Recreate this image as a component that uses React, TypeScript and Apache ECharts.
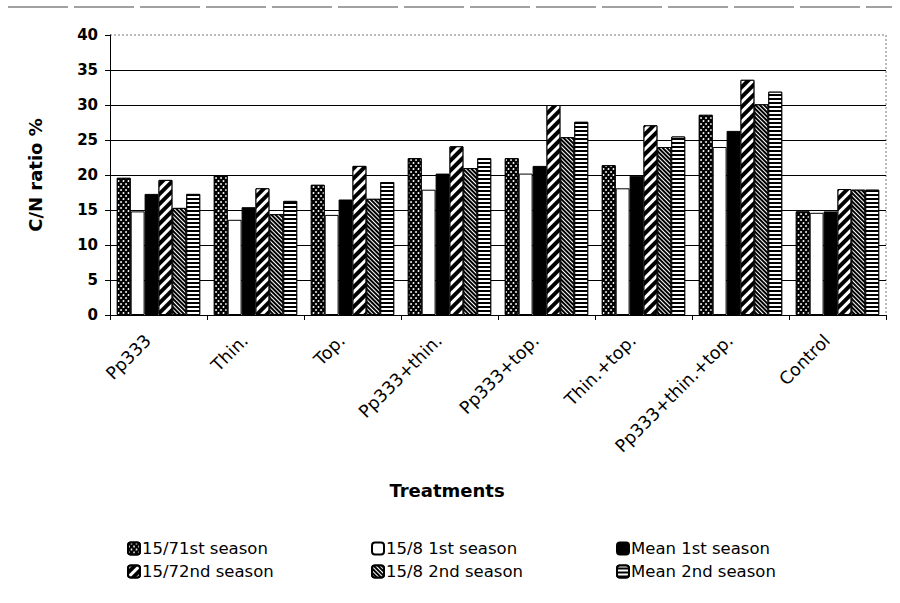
import React, { useEffect, useRef } from "react";
import * as echarts from "echarts";

const categories = [
  "Pp333",
  "Thin.",
  "Top.",
  "Pp333+thin.",
  "Pp333+top.",
  "Thin.+top.",
  "Pp333+thin.+top.",
  "Control",
];

const seriesNames = [
  "15/71st season",
  "15/8 1st season",
  "Mean 1st season",
  "15/72nd season",
  "15/8 2nd season",
  "Mean 2nd season",
];

const s157First = [19.6, 20.0, 18.6, 22.4, 22.4, 21.4, 28.6, 14.8];
const s158First = [14.8, 13.6, 14.3, 17.9, 20.2, 18.1, 24.0, 14.6];
const meanFirst = [17.3, 15.4, 16.5, 20.2, 21.3, 19.9, 26.3, 14.8];
const s157Second = [19.3, 18.1, 21.3, 24.1, 30.0, 27.1, 33.6, 18.0];
const s158Second = [15.3, 14.4, 16.6, 21.0, 25.4, 24.0, 30.1, 17.9];
const meanSecond = [17.3, 16.3, 19.0, 22.4, 27.6, 25.5, 31.9, 17.9];

const seriesValues = [s157First, s158First, meanFirst, s157Second, s158Second, meanSecond];

const yMin = 0;
const yMax = 40;
const yStep = 5;

const FONT = "DejaVu Sans";

const styles: any[] = [
  {
    color: "#000",
    decal: {
      symbol: "circle",
      color: "#fff",
      dashArrayX: [[2, 3], [0, 2, 3, 0]],
      dashArrayY: [2, 1],
      symbolSize: 0.9,
    },
  },
  { color: "#fff" },
  { color: "#000" },
  {
    color: "#000",
    decal: {
      symbol: "rect",
      color: "#fff",
      dashArrayX: [1, 0],
      dashArrayY: [3, 4],
      rotation: -Math.PI / 4,
      symbolSize: 1,
    },
  },
  {
    color: "#000",
    decal: {
      symbol: "rect",
      color: "#fff",
      dashArrayX: [1, 0],
      dashArrayY: [1, 2],
      rotation: Math.PI / 4,
      symbolSize: 1,
    },
  },
  {
    color: "#000",
    decal: {
      symbol: "rect",
      color: "#fff",
      dashArrayX: [1, 0],
      dashArrayY: [2, 2],
      rotation: 0,
      symbolSize: 1,
    },
  },
];

export default function App() {
  const ref = useRef<HTMLDivElement>(null);
  useEffect(() => {
    if (!ref.current) return;
    const chart = echarts.init(ref.current, null, { renderer: "svg" });
    const legendCols = [
      [seriesNames[0], seriesNames[3]],
      [seriesNames[1], seriesNames[4]],
      [seriesNames[2], seriesNames[5]],
    ];
    const legendLeft = [127, 371, 616];
    chart.setOption({
      animation: false,
      backgroundColor: "#fff",
      grid: { left: 110, right: 14, top: 35, bottom: 288, containLabel: false },
      legend: legendCols.map((d, i) => ({
        data: d,
        orient: "vertical",
        left: legendLeft[i],
        top: 540,
        itemWidth: 12,
        itemHeight: 12,
        itemGap: 6,
        padding: 0,
        textStyle: { fontFamily: FONT, fontSize: 16.5, color: "#000", padding: [0, 0, 0, -3] },
      })),
      xAxis: {
        type: "category",
        data: categories,
        name: "Treatments",
        nameLocation: "middle",
        nameGap: 166,
        nameTextStyle: {
          fontFamily: FONT,
          fontSize: 18,
          fontWeight: "bold",
          color: "#000",
          padding: [0, 102, 0, 0],
        },
        axisLine: { lineStyle: { color: "#000", width: 1 } },
        axisTick: { show: true, length: 5, lineStyle: { color: "#000" } },
        axisLabel: {
          rotate: 45,
          interval: 0,
          margin: 12,
          padding: [0, 15, 0, 0],
          fontFamily: FONT,
          fontSize: 17.5,
          color: "#000",
        },
        splitLine: { show: false },
      },
      yAxis: {
        type: "value",
        min: yMin,
        max: yMax,
        interval: yStep,
        name: "C/N ratio %",
        nameLocation: "middle",
        nameRotate: 90,
        nameGap: 66,
        nameTextStyle: { fontFamily: FONT, fontSize: 18, fontWeight: "bold", color: "#000" },
        axisLine: { show: true, lineStyle: { color: "#000", width: 1 } },
        axisTick: { show: true, length: 5, lineStyle: { color: "#000" } },
        axisLabel: { fontFamily: FONT, fontSize: 15, fontWeight: "bold", color: "#000", margin: 12 },
        splitLine: { show: true, showMaxLine: false, lineStyle: { color: "#000", width: 1 } },
      },
      series: seriesNames.map((name, i) => ({
        name,
        type: "bar",
        data: seriesValues[i],
        barGap: "0%",
        barCategoryGap: "14%",
        itemStyle: { ...styles[i], borderColor: "#000", borderWidth: 1 },
      })),
      graphic: [
        {
          type: "line",
          shape: { x1: 110, y1: 35, x2: 886, y2: 35 },
          style: { stroke: "#777", lineWidth: 1, lineDash: [2, 2] },
        },
        {
          type: "line",
          shape: { x1: 886, y1: 35, x2: 886, y2: 315 },
          style: { stroke: "#777", lineWidth: 1, lineDash: [2, 2] },
        },
        {
          type: "line",
          shape: { x1: 8, y1: 7, x2: 892, y2: 7 },
          style: { stroke: "#444", lineWidth: 1, lineDash: [60, 6] },
        },
      ],
    });
    return () => chart.dispose();
  }, []);
  return (
    <div
      ref={ref}
      style={{ position: "fixed", left: 0, top: 0, width: 900, height: 603, background: "#fff" }}
    />
  );
}
